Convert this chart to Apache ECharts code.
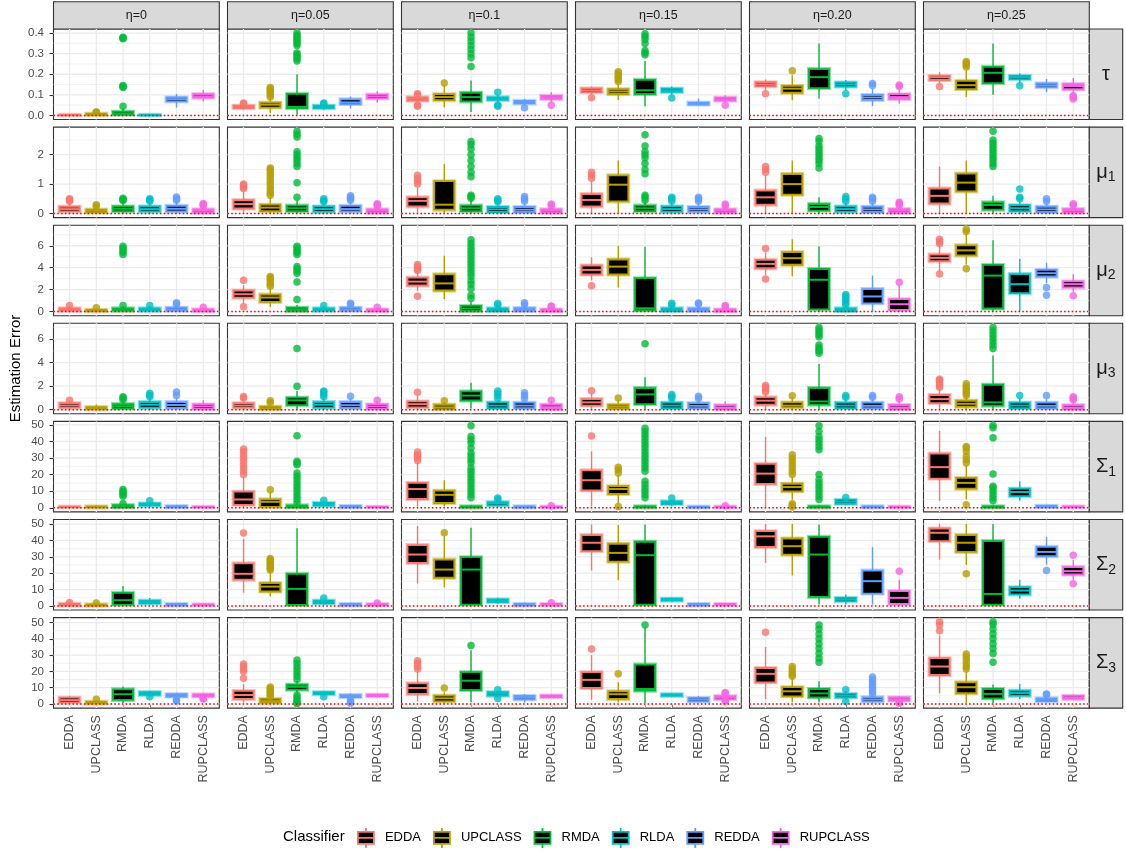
<!DOCTYPE html>
<html>
<head>
<meta charset="utf-8">
<script src="https://cdn.jsdelivr.net/npm/echarts@6/dist/echarts.min.js"></script>
<style>
html, body { margin: 0; padding: 0; background: #ffffff; }
#chart { width: 1126px; height: 851px; }
</style>
</head>
<body>
<div id="chart"></div>
<script>
// ---------------------------------------------------------------------------
// Data: estimation error summaries per parameter (rows) and contamination
// level eta (columns). Each box is [lowerWhisker, Q1, median, Q3, upperWhisker],
// listed in classifier order; outlier arrays follow the same nesting.
// ---------------------------------------------------------------------------
const classifiers = ['EDDA', 'UPCLASS', 'RMDA', 'RLDA', 'REDDA', 'RUPCLASS'];
const etaLabels = ['η=0', 'η=0.05', 'η=0.1', 'η=0.15', 'η=0.20', 'η=0.25'];
const paramSymbols = [['τ', ''], ['μ', '1'], ['μ', '2'], ['μ', '3'], ['Σ', '1'], ['Σ', '2'], ['Σ', '3']];

const tauTicks = [0, 0.1, 0.2, 0.3, 0.4];
const mu1Ticks = [0, 1, 2];
const mu2Ticks = [0, 2, 4, 6];
const mu3Ticks = [0, 2, 4, 6];
const sigmaTicks = [0, 10, 20, 30, 40, 50];

const tau = [
  [[0, 0.001, 0.002, 0.003, 0.005], [0, 0.002, 0.005, 0.008, 0.013], [0, 0.004, 0.01, 0.018, 0.035], [0, 0.0005, 0.0015, 0.003, 0.005], [0.038, 0.068, 0.079, 0.087, 0.104], [0.068, 0.086, 0.093, 0.103, 0.124]],
  [[0.028, 0.035, 0.041, 0.047, 0.055], [0.012, 0.038, 0.052, 0.062, 0.085], [0.003, 0.036, 0.041, 0.105, 0.2], [0.027, 0.035, 0.041, 0.047, 0.052], [0.034, 0.055, 0.063, 0.078, 0.092], [0.062, 0.083, 0.092, 0.101, 0.117]],
  [[0.062, 0.072, 0.08, 0.088, 0.095], [0.04, 0.074, 0.089, 0.103, 0.145], [0.016, 0.068, 0.089, 0.11, 0.17], [0.062, 0.075, 0.081, 0.088, 0.1], [0.047, 0.058, 0.065, 0.071, 0.08], [0.062, 0.08, 0.089, 0.095, 0.112]],
  [[0.1, 0.113, 0.122, 0.131, 0.14], [0.075, 0.104, 0.116, 0.127, 0.155], [0.044, 0.104, 0.122, 0.173, 0.265], [0.098, 0.114, 0.122, 0.13, 0.14], [0.05, 0.053, 0.057, 0.062, 0.082], [0.06, 0.072, 0.079, 0.086, 0.098]],
  [[0.12, 0.142, 0.151, 0.161, 0.175], [0.074, 0.11, 0.13, 0.143, 0.195], [0.082, 0.133, 0.186, 0.225, 0.35], [0.118, 0.14, 0.15, 0.16, 0.172], [0.045, 0.075, 0.087, 0.099, 0.13], [0.057, 0.08, 0.089, 0.103, 0.125]],
  [[0.155, 0.172, 0.185, 0.192, 0.21], [0.09, 0.128, 0.147, 0.168, 0.22], [0.1, 0.157, 0.207, 0.236, 0.35], [0.155, 0.176, 0.186, 0.192, 0.205], [0.113, 0.137, 0.146, 0.155, 0.177], [0.105, 0.127, 0.143, 0.152, 0.182]]
];
const tauOut = [
  [[], [0.015, 0.017], [0.044, 0.135, 0.14, 0.145, 0.372, 0.376, 0.38], [], [], []],
  [[0.057, 0.06], [0.09, 0.1, 0.11, 0.12, 0.13, 0.135], [0.265, 0.275, 0.285, 0.295, 0.303, 0.34, 0.35, 0.36, 0.37, 0.38, 0.39, 0.4], [0.056, 0.06], [], []],
  [[0.1, 0.105, 0.045, 0.05], [0.157], [0.238, 0.28, 0.3, 0.32, 0.34, 0.36, 0.38, 0.4], [0.113, 0.045, 0.05], [0.037], [0.049]],
  [[0.086], [0.165, 0.175, 0.185, 0.195, 0.205, 0.212], [0.295, 0.305, 0.315, 0.35, 0.37, 0.385, 0.397], [0.085], [], [0.049]],
  [[0.105], [0.217], [], [0.105], [0.145, 0.155], [0.14, 0.148]],
  [[0.141], [0.235, 0.245, 0.255, 0.262], [], [0.144], [], [0.08, 0.09, 0.095]]
];

const mu1 = [
  [[0, 0.07, 0.15, 0.23, 0.38], [0, 0.04, 0.09, 0.13, 0.2], [0, 0.08, 0.16, 0.24, 0.42], [0, 0.07, 0.15, 0.24, 0.38], [0, 0.07, 0.16, 0.26, 0.42], [0, 0.03, 0.09, 0.14, 0.22]],
  [[0.03, 0.17, 0.32, 0.45, 0.75], [0, 0.08, 0.2, 0.3, 0.55], [0, 0.08, 0.18, 0.27, 0.45], [0, 0.06, 0.15, 0.24, 0.36], [0, 0.07, 0.15, 0.26, 0.42], [0, 0.03, 0.09, 0.14, 0.22]],
  [[0.03, 0.24, 0.43, 0.55, 0.88], [0, 0.13, 0.3, 1.1, 1.68], [0, 0.08, 0.18, 0.27, 0.48], [0, 0.05, 0.14, 0.22, 0.36], [0, 0.05, 0.13, 0.22, 0.38], [0, 0.03, 0.09, 0.14, 0.22]],
  [[0, 0.24, 0.46, 0.66, 1.1], [0, 0.41, 0.98, 1.3, 1.8], [0, 0.08, 0.18, 0.27, 0.42], [0, 0.06, 0.15, 0.24, 0.38], [0, 0.06, 0.14, 0.22, 0.38], [0, 0.03, 0.09, 0.14, 0.22]],
  [[0, 0.3, 0.55, 0.78, 1.3], [0, 0.64, 1.0, 1.34, 1.8], [0, 0.1, 0.22, 0.32, 0.55], [0, 0.06, 0.15, 0.24, 0.38], [0, 0.05, 0.14, 0.23, 0.38], [0, 0.03, 0.09, 0.15, 0.24]],
  [[0, 0.34, 0.6, 0.85, 1.6], [0, 0.75, 1.05, 1.36, 1.8], [0, 0.13, 0.29, 0.38, 0.6], [0, 0.08, 0.18, 0.28, 0.45], [0, 0.05, 0.14, 0.23, 0.38], [0, 0.03, 0.09, 0.15, 0.24]]
];
const mu1Out = [
  [[0.42, 0.46, 0.5], [0.25, 0.3], [0.44, 0.48, 0.52], [0.42, 0.47, 0.5], [0.45, 0.5, 0.56], [0.26, 0.3, 0.34]],
  [[0.85, 0.9, 0.95, 1.0], [0.62, 0.7, 0.8, 0.9, 1.0, 1.1, 1.2, 1.3, 1.4, 1.5, 1.55], [0.55, 1.05, 1.6, 1.7, 1.8, 1.9, 2.0, 2.1, 2.6, 2.7, 2.8], [0.4, 0.45, 0.5], [0.45, 0.5, 0.55, 0.6], [0.26, 0.3, 0.33]],
  [[1.0, 1.1, 1.2, 1.3], [], [0.52, 0.58, 0.62, 1.25, 1.4, 1.6, 1.8, 2.0, 2.2, 2.35, 2.45], [0.4, 0.45, 0.5], [0.42, 0.5, 0.58], [0.26, 0.32]],
  [[1.2, 1.3, 1.4], [], [0.45, 0.55, 0.62, 1.35, 1.5, 1.7, 1.9, 2.0, 2.1, 2.3, 2.68], [0.42, 0.5, 0.55], [0.42, 0.5, 0.55], [0.26, 0.32]],
  [[1.4, 1.5, 1.6], [], [1.55, 1.7, 1.8, 1.9, 2.0, 2.1, 2.2, 2.3, 2.45, 2.55], [0.42, 0.5, 0.58], [0.42, 0.5, 0.55], [0.28, 0.33, 0.38]],
  [[], [], [1.6, 1.7, 1.8, 1.9, 2.0, 2.1, 2.2, 2.3, 2.4, 2.5, 2.8], [0.5, 0.55, 0.83], [0.42, 0.5], [0.28, 0.33]]
];

const mu2 = [
  [[0, 0.08, 0.17, 0.3, 0.5], [0, 0.04, 0.1, 0.16, 0.3], [0, 0.08, 0.18, 0.3, 0.5], [0, 0.08, 0.18, 0.3, 0.5], [0, 0.1, 0.2, 0.35, 0.6], [0, 0.04, 0.1, 0.2, 0.35]],
  [[0.7, 1.27, 1.58, 1.92, 2.4], [0.4, 0.88, 1.28, 1.55, 2.1], [0, 0.06, 0.2, 0.35, 0.6], [0, 0.08, 0.18, 0.3, 0.5], [0, 0.1, 0.2, 0.35, 0.6], [0, 0.04, 0.1, 0.2, 0.35]],
  [[1.9, 2.38, 2.73, 3.1, 3.6], [1.13, 1.92, 2.57, 3.4, 5.1], [0, 0.06, 0.28, 0.52, 0.9], [0, 0.05, 0.15, 0.3, 0.5], [0, 0.06, 0.18, 0.32, 0.55], [0, 0.03, 0.1, 0.2, 0.35]],
  [[2.85, 3.38, 3.8, 4.2, 4.95], [2.2, 3.38, 4.1, 4.75, 6.0], [0, 0.12, 0.3, 3.05, 5.9], [0, 0.05, 0.15, 0.3, 0.5], [0, 0.06, 0.16, 0.3, 0.55], [0, 0.03, 0.1, 0.2, 0.35]],
  [[3.3, 3.95, 4.35, 4.72, 5.4], [3.22, 4.27, 4.87, 5.42, 6.6], [0, 0.2, 2.9, 3.88, 5.95], [0, 0.05, 0.15, 0.3, 0.5], [0, 0.75, 1.38, 2.05, 3.28], [0, 0.15, 0.67, 1.13, 2.4]],
  [[3.7, 4.6, 4.9, 5.2, 6.0], [4.3, 5.12, 5.58, 6.04, 7.1], [0, 0.28, 3.28, 4.25, 6.5], [0, 1.68, 2.5, 3.42, 4.8], [2.6, 3.2, 3.5, 3.8, 4.45], [1.8, 2.2, 2.5, 2.75, 3.4]]
];
const mu2Out = [
  [[0.55], [0.35], [0.55, 5.2, 5.4, 5.6, 5.8, 5.95], [0.55], [0.7, 0.8], [0.4]],
  [[2.85, 0.45], [2.3, 2.5, 2.7, 2.9, 3.1, 3.2], [1.1, 2.7, 3.5, 3.7, 3.9, 4.1, 5.2, 5.4, 5.6, 5.8, 5.95], [0.55], [0.65, 0.75], [0.4]],
  [[3.75, 3.9, 4.1, 4.3, 1.4], [], [1.2, 1.5, 2.1, 2.5, 2.8, 3.2, 3.5, 3.8, 4.1, 4.4, 4.7, 5.0, 5.3, 5.6, 5.9, 6.2, 6.55], [0.6, 0.73], [0.65, 0.8], [0.45, 0.52]],
  [[2.36], [], [], [0.6, 0.75], [0.7, 0.78], [0.45, 0.55]],
  [[5.75, 2.97], [], [], [0.6, 0.8, 1.0, 1.2, 1.4, 1.55], [], [2.67]],
  [[6.2, 6.4, 6.6, 3.43], [7.3, 7.5, 3.9], [], [], [2.2, 1.5], [1.45]]
];

const mu3 = [
  [[0, 0.17, 0.36, 0.55, 0.75], [0, 0.04, 0.12, 0.22, 0.45], [0, 0.12, 0.3, 0.48, 0.75], [0, 0.17, 0.42, 0.65, 1.0], [0, 0.15, 0.4, 0.65, 1.05], [0, 0.08, 0.28, 0.45, 0.8]],
  [[0, 0.17, 0.36, 0.55, 0.9], [0, 0.04, 0.12, 0.25, 0.5], [0, 0.38, 0.8, 1.02, 1.6], [0, 0.17, 0.42, 0.65, 1.0], [0, 0.15, 0.38, 0.65, 1.0], [0, 0.08, 0.28, 0.45, 0.7]],
  [[0, 0.2, 0.47, 0.7, 1.2], [0, 0.05, 0.2, 0.42, 0.65], [0.1, 0.78, 1.2, 1.55, 2.3], [0, 0.14, 0.35, 0.62, 0.85], [0, 0.14, 0.35, 0.6, 0.85], [0, 0.06, 0.22, 0.42, 0.7]],
  [[0, 0.35, 0.62, 0.9, 1.35], [0, 0.1, 0.25, 0.42, 0.8], [0, 0.48, 1.3, 1.84, 2.75], [0, 0.14, 0.35, 0.6, 0.85], [0, 0.14, 0.33, 0.55, 0.85], [0, 0.06, 0.2, 0.38, 0.7]],
  [[0, 0.43, 0.77, 1.05, 1.4], [0, 0.2, 0.35, 0.62, 1.05], [0, 0.43, 0.7, 1.84, 3.9], [0, 0.14, 0.35, 0.6, 0.9], [0, 0.14, 0.33, 0.6, 0.9], [0, 0.06, 0.2, 0.4, 0.75]],
  [[0.05, 0.56, 0.9, 1.25, 1.8], [0, 0.26, 0.5, 0.76, 1.15], [0, 0.34, 0.62, 2.12, 4.6], [0, 0.14, 0.35, 0.6, 0.95], [0, 0.14, 0.33, 0.6, 0.9], [0, 0.06, 0.2, 0.38, 0.7]]
];
const mu3Out = [
  [[0.8], [], [0.85, 1.0, 1.1], [1.1, 1.25, 1.4], [1.2, 1.5], []],
  [[1.0, 1.13], [0.6, 0.75], [2.0, 5.2], [1.1, 1.3, 1.5, 1.6], [1.15], [0.8]],
  [[1.48], [0.77], [], [0.95, 1.2, 1.4, 1.6], [0.95, 1.2, 1.45], [0.8]],
  [[1.62], [0.99], [5.6], [0.95, 1.15, 1.3], [0.95, 1.15], []],
  [[1.5, 1.7, 1.9, 2.05], [1.19], [4.8, 5.0, 5.1, 5.3, 5.5, 6.2, 6.4, 6.6, 6.8, 7.0], [1.05, 1.2], [1.05, 1.2], [0.9, 1.1]],
  [[1.9, 2.1, 2.3, 2.5, 2.6], [1.2, 1.4, 1.6, 1.8, 2.0, 2.2], [5.2, 5.5, 5.8, 6.1, 6.4, 6.7, 7.0], [1.2], [1.2], [0.85, 1.0, 1.1]]
];

const sigma1 = [
  [[0.2, 0.4, 0.5, 0.7, 1.0], [0, 0.25, 0.5, 0.8, 1.5], [0, 0.3, 0.8, 1.6, 2.2], [0.5, 1.3, 2, 2.6, 3.5], [0, 0.3, 0.6, 1.0, 1.6], [0.2, 0.4, 0.5, 0.6, 0.8]],
  [[0.3, 1.8, 5, 9.7, 19], [0.3, 0.6, 3.6, 5.1, 9.5], [0, 0.3, 0.8, 1.5, 2.6], [0.6, 1.3, 2.2, 3.0, 4.0], [0, 0.3, 0.6, 1.1, 1.8], [0.2, 0.4, 0.5, 0.6, 0.8]],
  [[0.8, 5.3, 11.3, 15, 27], [0.8, 2.9, 7.8, 10.3, 16.6], [0, 0.2, 0.5, 0.9, 1.6], [0.5, 1.5, 2.6, 3.4, 4.5], [0, 0.2, 0.5, 0.9, 1.4], [0, 0.3, 0.5, 0.7, 1.0]],
  [[0.8, 10.5, 16.6, 22.6, 34], [2.8, 8.3, 11.3, 13, 19.6], [0, 0.2, 0.5, 0.9, 1.6], [1, 2.2, 3.0, 3.8, 5.0], [0, 0.2, 0.4, 0.7, 1.1], [0, 0.3, 0.5, 0.7, 1.0]],
  [[0.3, 14.4, 20.6, 26.5, 42.7], [4.8, 9.9, 12.5, 14.5, 19], [0, 0.2, 0.5, 0.9, 1.6], [1.5, 2.4, 3.6, 4.8, 6], [0, 0.2, 0.5, 0.9, 1.6], [0.1, 0.3, 0.5, 0.7, 0.9]],
  [[4.2, 17.6, 24.5, 32.7, 46.3], [5, 11.5, 15, 18, 26], [0, 0.2, 0.5, 0.9, 1.6], [4.2, 7, 9.5, 11.5, 16], [0.2, 0.4, 0.8, 1.2, 1.6], [0.2, 0.4, 0.6, 0.8, 1.0]]
];
const sigma1Out = [
  [[], [], [2.6, 7, 8, 9, 10, 11], [4.2], [], []],
  [[20, 22, 24, 26, 28, 30, 32, 34, 35.5], [10.8], [3, 5, 7, 9, 11, 13, 15, 17, 19, 21, 26, 27, 28, 43.5], [4.6], [], []],
  [[28.5, 30, 31, 32, 33.6], [], [6, 8, 10, 12, 14, 16, 18, 20, 22, 24, 27, 29, 31, 33, 36, 39, 41, 43, 49.5], [5.0, 5.9], [], [1.3]],
  [[43.3], [21, 23, 24.5, 0.8], [6, 8, 10, 12, 14, 16, 22, 24, 26, 28, 30, 32, 34, 36, 38, 40, 42, 44, 46, 48], [5.9], [], [1.3]],
  [[], [20, 22, 24, 26, 28, 30, 32, 2.5, 1.5, 0.5], [5, 7, 9, 11, 13, 15, 17, 20, 35, 37, 39, 41, 43, 46, 49.5], [6.2], [], []],
  [[], [27, 29, 31, 34, 36, 37, 1.8], [4.2, 6, 8, 10, 12, 13, 20.4, 42.2, 48.3, 49.6], [], [], []]
];

const sigma2 = [
  [[0, 0.3, 0.8, 1.3, 1.9], [0, 0.2, 0.5, 0.9, 1.5], [0.3, 0.8, 3.5, 8.0, 12.2], [1, 1.6, 2.4, 3.2, 4.8], [0, 0.3, 0.7, 1.2, 1.8], [0.3, 0.5, 0.7, 0.9, 1.2]],
  [[8.1, 16, 19.6, 26, 41], [5.7, 8.8, 11.8, 13.9, 21], [0, 0.6, 10.4, 19.6, 47.5], [0.8, 1.6, 2.5, 3.2, 4.2], [0, 0.3, 0.7, 1.2, 2.0], [0.3, 0.5, 0.8, 1.1, 1.5]],
  [[13.7, 26.3, 31.4, 37.2, 48.8], [11.4, 17.2, 22.2, 28.3, 42.5], [0, 0.8, 22.2, 29.8, 47.7], [1.5, 2.3, 3, 3.9, 5.0], [0, 0.3, 0.7, 1.2, 2.0], [0.4, 0.6, 0.9, 1.2, 1.6]],
  [[21.6, 33.5, 38.6, 43.3, 49.8], [15.7, 27, 32.4, 38, 49.5], [0, 0.8, 31, 39.2, 49.8], [2.5, 3.2, 3.8, 4.4, 5.2], [0, 0.3, 0.7, 1.2, 2], [0.3, 0.6, 0.9, 1.2, 1.6]],
  [[26.3, 36, 42.5, 45.7, 50], [18.8, 31.4, 36.5, 41.2, 50], [0.8, 5.5, 31.4, 42.2, 49.8], [0.8, 2.9, 4, 4.9, 7], [0.8, 7.5, 15.1, 21.6, 35.9], [0, 1.2, 4.9, 9, 16]],
  [[28.3, 39.6, 44.7, 47.3, 50.3], [25, 33, 38.6, 43.3, 50], [0, 0.8, 7.3, 39.6, 50], [4.3, 7, 9.4, 11.4, 16], [25.3, 30.4, 33, 36.1, 42.2], [16, 19.2, 21.2, 23.7, 28]]
];
const sigma2Out = [
  [[2.1], [1.8], [], [], [], []],
  [[44.5], [22, 23, 24, 25, 26, 27, 28, 29], [], [4.8], [], [1.8]],
  [[], [44.7], [], [], [], [1.9]],
  [[], [], [], [], [], []],
  [[], [], [], [], [], [21.2]],
  [[], [19.6], [], [], [21.6], [31, 13.6]]
];

const sigma3 = [
  [[0.3, 1, 2.4, 3.9, 5], [0, 0.3, 0.8, 1.4, 2.3], [0.6, 2.5, 6, 9, 10.7], [5, 5.6, 6.5, 7.3, 8], [3.5, 4.6, 5.3, 6, 6.8], [4, 4.7, 5.3, 5.9, 6.5]],
  [[0.8, 3.1, 5.5, 8, 12], [0, 0.8, 1.8, 3.1, 4.3], [6.5, 8.8, 10.5, 11.8, 14.3], [5.3, 6, 6.5, 7.2, 7.8], [3.5, 4.2, 4.8, 5.5, 6.5], [4.2, 4.8, 5.2, 5.7, 6.2]],
  [[1.6, 6.2, 9.8, 12.7, 20], [0.3, 1.6, 3.5, 5.1, 7.2], [1, 8.6, 14.3, 19.5, 33], [4.5, 5.1, 6.2, 7.2, 8], [0.8, 2.9, 3.9, 4.9, 6], [3.8, 4.2, 4.7, 5.2, 5.8]],
  [[2.5, 9.8, 14.8, 19.5, 30], [1, 3.1, 6, 7.8, 13.3], [0.5, 8.2, 9.2, 24.2, 47], [4.6, 5, 5.5, 6, 6.5], [1, 1.6, 2.7, 3.7, 4.8], [2.5, 3, 4, 4.8, 5.8]],
  [[3.1, 13.3, 18.5, 22.1, 35], [1, 4.7, 7.8, 10.3, 16], [1, 4.1, 6.5, 9.2, 14], [2.5, 4.1, 5.1, 6.2, 8], [0.3, 1.6, 2.8, 4.1, 5], [1.5, 2.1, 3, 4, 4.8]],
  [[6.6, 17.8, 23, 28.1, 42], [0.6, 6.6, 10.3, 13.3, 20], [0.6, 3.5, 6.2, 9.2, 12], [3.1, 5.1, 6.7, 8.2, 12.3], [0.8, 1.7, 2.6, 3.5, 4.8], [2.5, 3.1, 4, 5, 5.8]]
];
const sigma3Out = [
  [[], [2.9], [], [4.5], [2.5, 1.8], [3, 3.5]],
  [[15.8, 20, 21.5, 23, 24.5], [4.8, 5.5, 6.5, 7.5, 8.5, 9.5, 10.5], [15, 17, 19, 21, 23, 25, 27, 5.5, 4, 2.5, 1, 0.3], [4.5], [2.5, 1.5, 0.5], []],
  [[21.5, 23, 25, 26.5], [9.8], [35.9], [8.8, 3.3], [], []],
  [[33.8], [18.5], [48.5], [], [], [6.5, 7, 1.8, 2.2]],
  [[44], [17, 18.5, 20, 21.5, 23], [25.6, 28, 31, 34, 37, 40, 43, 46, 48.5], [8.8, 1.5], [6, 7.5, 9, 10.5, 12, 13.5, 15, 16.5], [0.5, 1.0]],
  [[45, 48.5, 50.5], [21.5, 23, 25, 27, 29, 30.7], [25.6, 31, 34, 37, 40, 43, 46, 49, 50.5], [], [5.8, 6.2], []]
];

// ---------------------------------------------------------------------------
// Rows of the facet grid and their tick settings
// ---------------------------------------------------------------------------
const facetRows = [
  { stats: tau, out: tauOut, ticks: tauTicks, digits: 1 },
  { stats: mu1, out: mu1Out, ticks: mu1Ticks, digits: 0 },
  { stats: mu2, out: mu2Out, ticks: mu2Ticks, digits: 0 },
  { stats: mu3, out: mu3Out, ticks: mu3Ticks, digits: 0 },
  { stats: sigma1, out: sigma1Out, ticks: sigmaTicks, digits: 0 },
  { stats: sigma2, out: sigma2Out, ticks: sigmaTicks, digits: 0 },
  { stats: sigma3, out: sigma3Out, ticks: sigmaTicks, digits: 0 }
];

// ---------------------------------------------------------------------------
// Appearance
// ---------------------------------------------------------------------------
const COLORS = ['#F8766D', '#B79F00', '#00BA38', '#00BFC4', '#619CFF', '#F564E3'];
const FONT = '"Liberation Sans", Arial, Helvetica, sans-serif';
const PANEL_LEFT = 53.5, PANEL_STEP_X = 174, PANEL_W = 165.8;
const PANEL_TOP = 29, PANEL_STEP_Y = 98.1, PANEL_H = 90.5;
const STRIP_TOP = 1.7, STRIP_H = PANEL_TOP - STRIP_TOP, STRIP_W = 33.4;
const BOX_WIDTH = 0.75;          // in category units
const X_MIN = 0.4, X_MAX = 6.6;  // discrete scale with 0.6 unit padding
const GRID_GREY = '#ebebeb';
const BORDER = '#333333';

// y limits follow the usual 5% expansion of the data range of each row
function rowLimits(row) {
  let lo = Infinity, hi = -Infinity;
  row.stats.forEach((col, c) => col.forEach((b, k) => {
    b.forEach(v => { lo = Math.min(lo, v); hi = Math.max(hi, v); });
    row.out[c][k].forEach(v => { lo = Math.min(lo, v); hi = Math.max(hi, v); });
  }));
  const pad = (hi - lo) * 0.05;
  return [lo - pad, hi + pad];
}

function renderGridLines(params, api) {
  const cs = params.coordSys;
  const kind = api.value(2);
  if (kind === 2) {
    const x = api.coord([api.value(0), 0])[0];
    return { type: 'line', shape: { x1: x, y1: cs.y, x2: x, y2: cs.y + cs.height },
      style: { stroke: GRID_GREY, lineWidth: 1.3 } };
  }
  const y = api.coord([1, api.value(1)])[1];
  return { type: 'line', shape: { x1: cs.x, y1: y, x2: cs.x + cs.width, y2: y },
    style: { stroke: GRID_GREY, lineWidth: kind === 0 ? 1.3 : 0.65 } };
}

function renderZeroLine(params, api) {
  const cs = params.coordSys;
  const y = api.coord([1, api.value(1)])[1];
  return { type: 'line', shape: { x1: cs.x, y1: y, x2: cs.x + cs.width, y2: y },
    style: { stroke: '#ff0000', lineWidth: 1.5, lineDash: [1.5, 2.3] } };
}

function renderBox(params, api) {
  const k = api.value(0);
  const col = COLORS[api.value(6)];
  const pLo = api.coord([k, api.value(1)]);
  const pQ1 = api.coord([k, api.value(2)]);
  const pMed = api.coord([k, api.value(3)]);
  const pQ3 = api.coord([k, api.value(4)]);
  const pHi = api.coord([k, api.value(5)]);
  const w = api.size([BOX_WIDTH, 0])[0];
  const x0 = pQ1[0] - w / 2;
  const rect = { x: x0, y: pQ3[1], width: w, height: Math.max(pQ1[1] - pQ3[1], 0.01) };
  return {
    type: 'group',
    children: [
      { type: 'line', shape: { x1: pLo[0], y1: pLo[1], x2: pQ1[0], y2: pQ1[1] }, style: { stroke: col, lineWidth: 1.4 } },
      { type: 'line', shape: { x1: pQ3[0], y1: pQ3[1], x2: pHi[0], y2: pHi[1] }, style: { stroke: col, lineWidth: 1.4 } },
      { type: 'rect', shape: rect, style: { fill: 'none', stroke: col, lineWidth: 4, opacity: 0.45 } },
      { type: 'rect', shape: rect, style: { fill: '#000000', stroke: col, lineWidth: 1.8 } },
      { type: 'line', shape: { x1: x0, y1: pMed[1], x2: x0 + w, y2: pMed[1] }, style: { stroke: col, lineWidth: 2 } }
    ]
  };
}

const grids = [], xAxes = [], yAxes = [], series = [], graphics = [];
const catPositions = classifiers.map((_, i) => i + 1);

facetRows.forEach((row, r) => {
  const lim = rowLimits(row);
  const step = row.ticks[1] - row.ticks[0];
  const minor = [];
  for (let v = row.ticks[0] - step / 2; v < lim[1]; v += step) {
    if (v > lim[0]) minor.push(v);
  }
  etaLabels.forEach((eta, c) => {
    const idx = grids.length;
    const left = PANEL_LEFT + c * PANEL_STEP_X;
    const top = PANEL_TOP + r * PANEL_STEP_Y;
    grids.push({ left, top, width: PANEL_W, height: PANEL_H, show: true,
      backgroundColor: '#ffffff', borderColor: BORDER, borderWidth: 1.1, containLabel: false });
    const bottomRow = r === facetRows.length - 1;
    xAxes.push({
      gridIndex: idx, type: 'value', min: X_MIN, max: X_MAX,
      axisLine: { show: false }, splitLine: { show: false },
      axisTick: { show: bottomRow, customValues: catPositions, length: 4, lineStyle: { color: BORDER, width: 1.1 } },
      axisLabel: { show: bottomRow, customValues: catPositions, rotate: 90, margin: 7,
        formatter: v => classifiers[Math.round(v) - 1] || '',
        color: '#4d4d4d', fontSize: 12.5, fontFamily: FONT }
    });
    const firstCol = c === 0;
    yAxes.push({
      gridIndex: idx, type: 'value', min: lim[0], max: lim[1],
      axisLine: { show: false }, splitLine: { show: false },
      axisTick: { show: firstCol, customValues: row.ticks, length: 4, lineStyle: { color: BORDER, width: 1.1 } },
      axisLabel: { show: firstCol, customValues: row.ticks, margin: 9.5,
        formatter: v => Number(v).toFixed(row.digits),
        color: '#4d4d4d', fontSize: 11.5, fontFamily: FONT }
    });

    // panel background grid
    const lines = [];
    row.ticks.forEach(v => lines.push([1, v, 0]));
    minor.forEach(v => lines.push([1, v, 1]));
    catPositions.forEach(k => lines.push([k, 0, 2]));
    series.push({ type: 'custom', xAxisIndex: idx, yAxisIndex: idx, z: 1, silent: true,
      renderItem: renderGridLines, data: lines });

    // boxes
    const boxes = row.stats[c].map((b, k) => [k + 1, b[0], b[1], b[2], b[3], b[4], k]);
    series.push({ type: 'custom', xAxisIndex: idx, yAxisIndex: idx, z: 2, silent: true,
      renderItem: renderBox, data: boxes, encode: { x: 0, y: [1, 2, 3, 4, 5] } });

    // outliers
    const pts = [];
    row.out[c].forEach((vals, k) => vals.forEach(v => pts.push({ value: [k + 1, v], itemStyle: { color: COLORS[k] } })));
    series.push({ type: 'scatter', xAxisIndex: idx, yAxisIndex: idx, z: 3, silent: true,
      symbol: 'circle', symbolSize: 7.5, data: pts });

    // reference line at zero error
    series.push({ type: 'custom', xAxisIndex: idx, yAxisIndex: idx, z: 4, silent: true,
      renderItem: renderZeroLine, data: [[1, 0]] });

    // column strip
    if (r === 0) {
      graphics.push({ type: 'rect', shape: { x: left, y: STRIP_TOP, width: PANEL_W, height: STRIP_H },
        style: { fill: '#d9d9d9', stroke: BORDER, lineWidth: 1.1 } });
      graphics.push({ type: 'text', x: left + PANEL_W / 2, y: STRIP_TOP + STRIP_H / 2,
        style: { text: eta, align: 'center', verticalAlign: 'middle', fontSize: 12.5, fontFamily: FONT, fill: '#1a1a1a' } });
    }
  });

  // row strip
  const rx = PANEL_LEFT + 5 * PANEL_STEP_X + PANEL_W;
  const ry = PANEL_TOP + r * PANEL_STEP_Y;
  graphics.push({ type: 'rect', shape: { x: rx, y: ry, width: STRIP_W, height: PANEL_H },
    style: { fill: '#d9d9d9', stroke: BORDER, lineWidth: 1.1 } });
  const sym = paramSymbols[r];
  graphics.push({ type: 'text', x: rx + STRIP_W / 2, y: ry + PANEL_H / 2,
    style: {
      text: sym[1] ? '{g|' + sym[0] + '}{s|' + sym[1] + '}' : '{g|' + sym[0] + '}',
      align: 'center', verticalAlign: 'middle',
      rich: {
        g: { fontSize: 20, fontFamily: FONT, fill: '#1a1a1a', lineHeight: 22 },
        s: { fontSize: 14, fontFamily: FONT, fill: '#1a1a1a', lineHeight: 14, padding: [10, 0, 0, 0] }
      }
    } });
});

// y-axis title
graphics.push({ type: 'text', x: 16, y: PANEL_TOP + (6 * PANEL_STEP_Y + PANEL_H) / 2, rotation: Math.PI / 2,
  style: { text: 'Estimation Error', align: 'center', verticalAlign: 'middle', fontSize: 15, fontFamily: FONT, fill: '#000000' } });

// legend entries: one empty series per classifier
const LEGEND_ICON = 'path://M0,4H16V16H0Z M0,10H16 M8,0V4 M8,16V20';
classifiers.forEach((name, i) => {
  series.push({ type: 'custom', name, xAxisIndex: 0, yAxisIndex: 0, data: [],
    renderItem: () => null, itemStyle: { color: '#000000', borderColor: COLORS[i] } });
});

const option = {
  animation: false,
  backgroundColor: '#ffffff',
  title: { text: 'Classifier', left: 283, top: 829, padding: 0,
    textStyle: { fontSize: 15, fontWeight: 'normal', color: '#000000', fontFamily: FONT } },
  legend: {
    left: 357, top: 827, orient: 'horizontal', padding: 0,
    itemWidth: 16, itemHeight: 20, itemGap: 12, selectedMode: false,
    textStyle: { fontSize: 13, color: '#000000', fontFamily: FONT, padding: [0, 0, 0, 6] },
    data: classifiers.map((name, i) => ({ name, icon: LEGEND_ICON,
      itemStyle: { color: '#000000', borderColor: COLORS[i], borderWidth: 1.8 } }))
  },
  grid: grids,
  xAxis: xAxes,
  yAxis: yAxes,
  series,
  graphic: graphics
};

const chart = echarts.init(document.getElementById('chart'), null, { renderer: 'canvas' });
chart.setOption(option);
</script>
</body>
</html>
